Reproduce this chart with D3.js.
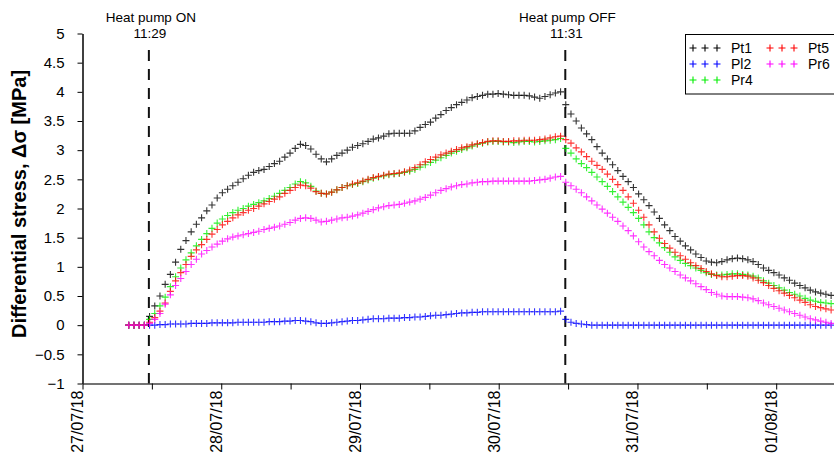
<!DOCTYPE html>
<html>
<head>
<meta charset="utf-8">
<script src="https://cdn.jsdelivr.net/npm/d3@7"></script>
<style>
	body { margin: 0; background: #fff; }
	svg { display: block; font-family: "Liberation Sans", Arial, sans-serif; }
</style>
</head>
<body>
<div id="chart"></div>
<script>
// Sampling grid of the logger (one reading every 54 min from 27/07 08:00)
const sampleStart = new Date(2018, 6, 27, 8, 0);
const sampleStepMin = 54;

// Differential stress [MPa] per sensor
const pt1 = [0,0,0,0,
	0.15,0.33,0.5,0.7,0.87,1.08,1.3,1.45,1.6,1.73,
	1.84,1.96,2.06,2.18,2.27,2.33,2.39,2.45,2.51,2.57,
	2.62,2.65,2.67,2.72,2.77,2.81,2.88,2.95,3.03,3.1,
	3.08,3.02,2.93,2.85,2.8,2.85,2.91,2.95,3.0,3.05,
	3.08,3.11,3.15,3.19,3.21,3.24,3.28,3.29,3.29,3.29,
	3.29,3.33,3.39,3.44,3.48,3.55,3.61,3.68,3.73,3.78,
	3.82,3.86,3.9,3.92,3.94,3.96,3.96,3.97,3.96,3.95,
	3.94,3.94,3.94,3.93,3.91,3.89,3.92,3.95,3.98,4.0,
	3.78,3.62,3.5,3.38,3.28,3.18,3.06,2.95,2.85,2.75,
	2.65,2.55,2.46,2.36,2.25,2.15,2.05,1.94,1.83,1.72,
	1.62,1.52,1.44,1.36,1.29,1.22,1.16,1.1,1.08,1.07,
	1.09,1.12,1.14,1.15,1.14,1.12,1.09,1.04,0.98,0.94,
	0.9,0.86,0.81,0.77,0.72,0.68,0.64,0.6,0.57,0.55,0.53,0.51];

const pl2 = [0,0,0,0,0,
	0,0.01,0.01,0.02,0.02,0.02,0.02,0.03,0.03,0.03,
	0.03,0.04,0.04,0.04,0.04,0.04,0.05,0.05,0.05,0.05,
	0.05,0.05,0.06,0.06,0.06,0.07,0.07,0.08,0.08,0.07,
	0.06,0.04,0.03,0.03,0.04,0.05,0.06,0.07,0.08,0.08,
	0.09,0.1,0.11,0.11,0.11,0.12,0.12,0.12,0.13,0.13,
	0.14,0.14,0.15,0.16,0.17,0.17,0.18,0.19,0.2,0.21,
	0.21,0.22,0.22,0.23,0.23,0.23,0.23,0.23,0.23,0.23,
	0.23,0.23,0.23,0.23,0.23,0.23,0.23,0.23,0.24,0.1,
	0.05,0.03,0.02,0.01,0,0,0,0,0,0,
	0,0,0,0,0,0,0,0,0,0,
	0,0,0,0,0,0,0,0,0,0,
	0,0,0,0,0,0,0,0,0,0,
	0,0,0,0,0,0,0,0,0,0,0];

const pr4 = [0,0,0,0,
	0.1,0.2,0.33,0.48,0.66,0.83,0.98,1.12,1.24,1.36,
	1.47,1.57,1.66,1.75,1.82,1.88,1.93,1.97,2.0,2.04,
	2.07,2.1,2.13,2.17,2.21,2.26,2.31,2.36,2.42,2.46,
	2.44,2.38,2.3,2.26,2.25,2.28,2.32,2.36,2.39,2.41,
	2.43,2.46,2.49,2.52,2.54,2.56,2.58,2.59,2.6,2.62,
	2.64,2.67,2.71,2.75,2.79,2.83,2.87,2.91,2.95,2.98,
	3.01,3.04,3.07,3.1,3.12,3.14,3.15,3.15,3.14,3.14,
	3.13,3.14,3.15,3.15,3.14,3.15,3.16,3.17,3.18,3.2,
	3.03,2.95,2.85,2.77,2.7,2.62,2.54,2.46,2.38,2.29,
	2.2,2.11,2.02,1.93,1.83,1.72,1.6,1.5,1.41,1.33,
	1.25,1.17,1.11,1.06,1.02,0.98,0.94,0.9,0.87,0.86,
	0.86,0.87,0.88,0.88,0.87,0.86,0.84,0.81,0.76,0.72,
	0.68,0.64,0.6,0.56,0.53,0.5,0.46,0.43,0.41,0.39,0.38,0.37];

const pt5 = [0,0,0,0,
	0.05,0.13,0.24,0.38,0.58,0.76,0.9,1.04,1.18,1.29,
	1.38,1.47,1.56,1.64,1.72,1.78,1.84,1.89,1.93,1.97,
	2.0,2.04,2.08,2.12,2.16,2.2,2.26,2.31,2.36,2.4,
	2.39,2.35,2.29,2.26,2.25,2.28,2.32,2.36,2.39,2.42,
	2.44,2.47,2.5,2.53,2.55,2.57,2.59,2.6,2.61,2.63,
	2.66,2.7,2.75,2.8,2.84,2.88,2.92,2.95,2.98,3.01,
	3.04,3.06,3.09,3.11,3.13,3.15,3.16,3.16,3.15,3.15,
	3.16,3.16,3.17,3.17,3.17,3.18,3.19,3.21,3.23,3.24,
	3.18,3.12,3.04,2.97,2.89,2.81,2.74,2.67,2.59,2.5,
	2.41,2.31,2.2,2.09,1.97,1.85,1.72,1.6,1.49,1.4,
	1.32,1.25,1.19,1.13,1.07,1.02,0.97,0.92,0.88,0.85,
	0.83,0.83,0.84,0.85,0.85,0.84,0.81,0.77,0.73,0.68,
	0.63,0.59,0.55,0.51,0.47,0.43,0.39,0.35,0.32,0.3,0.28,0.26];

const pr6 = [0,0,0,0,
	0.03,0.1,0.2,0.36,0.52,0.68,0.8,0.92,1.04,1.13,
	1.22,1.28,1.34,1.39,1.44,1.48,1.51,1.53,1.55,1.57,
	1.59,1.61,1.64,1.66,1.68,1.7,1.73,1.76,1.8,1.83,
	1.84,1.83,1.8,1.77,1.78,1.8,1.82,1.84,1.85,1.87,
	1.89,1.92,1.95,1.98,2.01,2.03,2.05,2.06,2.07,2.09,
	2.11,2.13,2.16,2.19,2.23,2.27,2.31,2.34,2.37,2.39,
	2.41,2.42,2.44,2.45,2.46,2.46,2.47,2.47,2.47,2.47,
	2.47,2.47,2.47,2.47,2.48,2.49,2.5,2.52,2.54,2.55,
	2.45,2.39,2.33,2.27,2.2,2.13,2.06,1.99,1.92,1.85,
	1.78,1.7,1.62,1.53,1.43,1.34,1.26,1.19,1.11,1.04,
	0.98,0.92,0.86,0.81,0.76,0.71,0.66,0.61,0.56,0.53,
	0.5,0.49,0.49,0.49,0.48,0.47,0.45,0.42,0.38,0.35,
	0.32,0.29,0.26,0.23,0.2,0.17,0.14,0.11,0.09,0.07,0.05,0.03];

const seriesNames = ["Pt1", "Pl2", "Pr4", "Pt5", "Pr6"];
const seriesValues = [pt1, pl2, pr4, pt5, pr6];
const seriesColors = ["#000000", "#0000ff", "#00ee00", "#ff0000", "#ff00ff"];

const yTicks = [-1, -0.5, 0, 0.5, 1, 1.5, 2, 2.5, 3, 3.5, 4, 4.5, 5];

// Heat pump events
const events = [
	{ label: "Heat pump ON", time: new Date(2018, 6, 27, 11, 29), clock: "11:29" },
	{ label: "Heat pump OFF", time: new Date(2018, 6, 30, 11, 31), clock: "11:31" }
];

const width = 834, height = 456;
const margin = { left: 82.5, right: 834, top: 33.5, bottom: 383.5 };

const svg = d3.select("#chart").append("svg")
	.attr("width", width).attr("height", height);

const x = d3.scaleTime()
	.domain([new Date(2018, 6, 27), new Date(2018, 7, 1, 10, 0)])
	.range([margin.left, margin.right]);
const y = d3.scaleLinear().domain([-1, 5]).range([margin.bottom, margin.top]);

const fmt = d3.timeFormat("%d/%m/%y");

// Axes
const axisY = svg.append("g")
	.attr("transform", `translate(${margin.left},0)`)
	.call(d3.axisLeft(y).tickValues(yTicks).tickFormat(d3.format("")).tickSize(5).tickSizeOuter(0).tickPadding(13));
axisY.select(".domain").attr("stroke", "#000").attr("stroke-width", 1.5);
axisY.selectAll(".tick line").attr("stroke", "#000");
axisY.selectAll("text").style("font-size", "15px").attr("fill", "#000");

const axisX = svg.append("g")
	.attr("transform", `translate(0,${margin.bottom})`)
	.call(d3.axisBottom(x).ticks(d3.timeHour.every(12))
		.tickFormat((d) => d.getHours() === 0 ? fmt(d) : "")
		.tickSize(6).tickSizeOuter(0));
axisX.select(".domain").attr("stroke", "#444").attr("stroke-width", 1.5);
axisX.selectAll(".tick line").attr("stroke", "#000");
axisX.selectAll("text")
	.style("font-size", "16px").attr("fill", "#000")
	.style("text-anchor", "end")
	.attr("x", 0).attr("y", 0).attr("dy", "0.02em")
	.attr("transform", "translate(0,7) rotate(-90)");

// Y label
svg.append("text")
	.attr("transform", "translate(26,204) rotate(-90)")
	.style("text-anchor", "middle").style("font-size", "20px").style("font-weight", "bold")
	.text("Differential stress, Δσ [MPa]");

// Event markers
const ev = svg.append("g").selectAll("g").data(events).join("g");
ev.append("line")
	.attr("x1", (d) => x(d.time)).attr("x2", (d) => x(d.time))
	.attr("y1", 50).attr("y2", margin.bottom)
	.attr("stroke", "#111").attr("stroke-width", 2).attr("stroke-dasharray", "11,8");
ev.append("text")
	.attr("x", (d) => x(d.time) + 2).attr("y", 22)
	.style("text-anchor", "middle").style("font-size", "13.5px")
	.text((d) => d.label);
ev.append("text")
	.attr("x", (d) => x(d.time) + 1).attr("y", 38)
	.style("text-anchor", "middle").style("font-size", "13.5px")
	.text((d) => d.clock);

// Plus markers
const plus = "M-3.5,0H3.5M0,-3.5V3.5";
const timeAt = (i) => new Date(sampleStart.getTime() + i * sampleStepMin * 60000);

const plot = svg.append("g");
seriesValues.forEach((vals, k) => {
	plot.append("g").selectAll("path").data(vals).join("path")
		.attr("d", plus)
		.attr("transform", (d, i) => `translate(${x(timeAt(i))},${y(d)})`)
		.attr("fill", "none")
		.attr("stroke", seriesColors[k])
		.attr("stroke-width", 1.1)
		.attr("stroke-opacity", 0.8);
});

// Legend
const legend = svg.append("g");
legend.append("rect")
	.attr("x", 685.5).attr("y", 34.5).attr("width", 200).attr("height", 59.5)
	.attr("fill", "#fff").attr("stroke", "#000");

const legendPos = [[693, 48], [693, 64], [693, 80], [770, 48], [770, 64]];
seriesNames.forEach((name, k) => {
	const [lx, ly] = legendPos[k];
	const item = legend.append("g").attr("transform", `translate(${lx},${ly})`);
	item.selectAll("path").data([0, 12, 24]).join("path")
		.attr("d", plus)
		.attr("transform", (d) => `translate(${d},0)`)
		.attr("stroke", seriesColors[k]).attr("stroke-width", 1.1);
	item.append("text")
		.attr("x", 38).attr("y", 5)
		.style("font-size", "14px")
		.text(name);
});
</script>
</body>
</html>
